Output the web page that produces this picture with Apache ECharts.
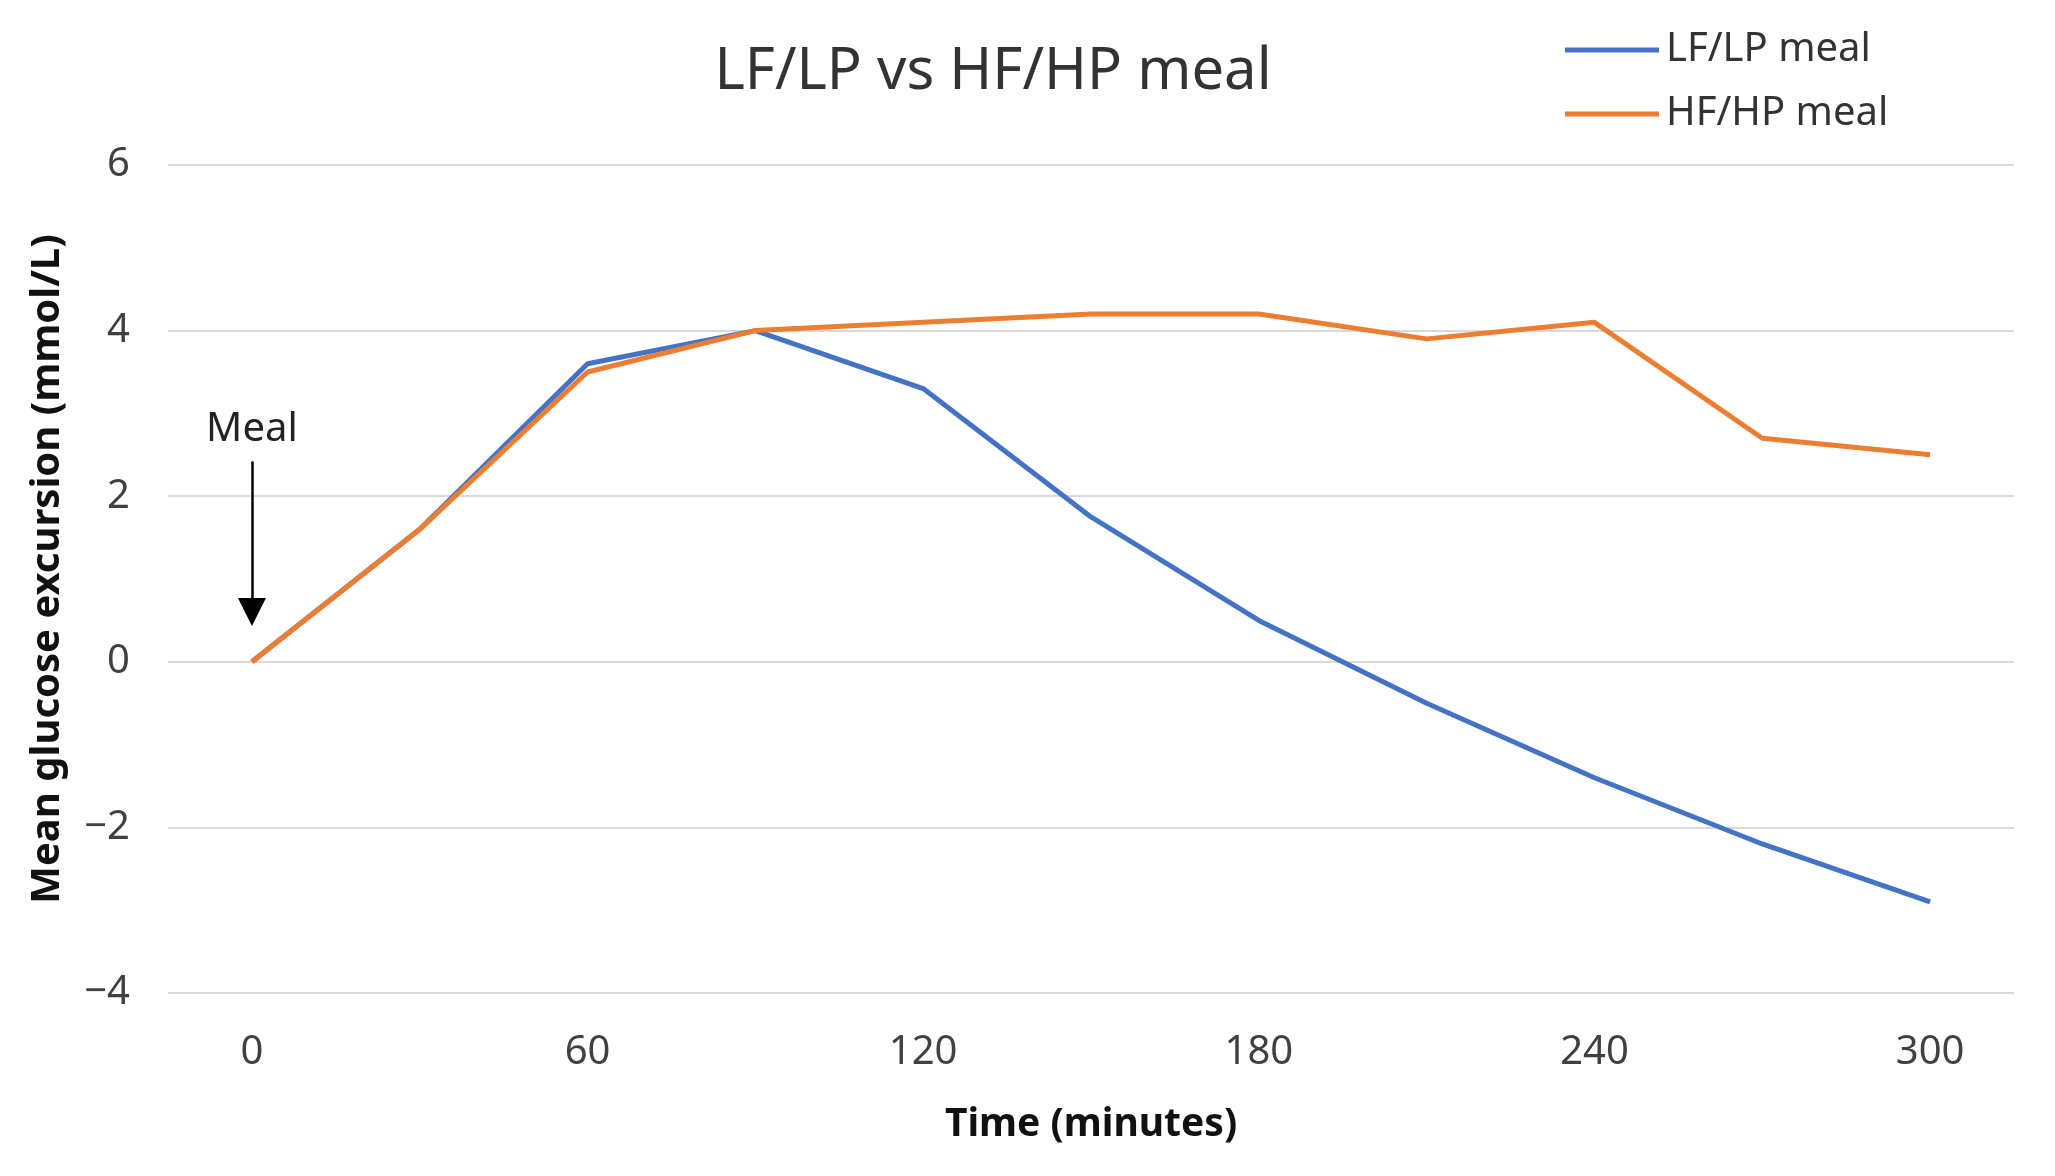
<!DOCTYPE html>
<html>
<head>
<meta charset="utf-8">
<script src="https://cdn.jsdelivr.net/npm/echarts@6/dist/echarts.min.js"></script>
<style>
html,body{margin:0;padding:0;background:#fff;}
#chart{width:2055px;height:1176px;}
</style>
</head>
<body>
<div id="chart"></div>
<script>
var timeCategories = ['0','30','60','90','120','150','180','210','240','270','300'];
var lfLpValues = [0, 1.6, 3.6, 4.0, 3.3, 1.75, 0.5, -0.5, -1.4, -2.2, -2.9];
var hfHpValues = [0, 1.6, 3.5, 4.0, 4.1, 4.2, 4.2, 3.9, 4.1, 2.7, 2.5];
var seriesNames = ['LF/LP meal', 'HF/HP meal'];
var mealArrow = { x: '0', yFrom: 2.42, yTo: 0.6, labelY: 2.8, text: 'Meal' };

var FONT = '"Noto Sans", "Open Sans", sans-serif';
var chart = echarts.init(document.getElementById('chart'));
chart.setOption({
  backgroundColor: '#ffffff',
  animation: false,
  title: {
    text: 'LF/LP vs HF/HP meal',
    left: 988,
    textAlign: 'center',
    top: 38,
    textStyle: { fontFamily: FONT, fontSize: 58, fontWeight: 'normal', color: '#333333' }
  },
  legend: {
    orient: 'vertical',
    left: 1560,
    top: 22,
    icon: 'rect',
    itemWidth: 94,
    itemHeight: 5,
    itemGap: 18,
    data: seriesNames,
    textStyle: { fontFamily: FONT, fontSize: 40, color: '#333333', lineHeight: 46, padding: [0,0,0,2] }
  },
  grid: { left: 168, right: 41, top: 165, bottom: 183, containLabel: false },
  xAxis: {
    type: 'category',
    data: timeCategories,
    boundaryGap: true,
    name: 'Time (minutes)',
    nameLocation: 'middle',
    nameGap: 112,
    nameTextStyle: { fontFamily: FONT, fontSize: 39, fontWeight: 'bold', color: '#111111' },
    axisLine: { show: false },
    axisTick: { show: false },
    axisLabel: { interval: 1, margin: 40, fontFamily: FONT, fontSize: 40, color: '#404040' },
    splitLine: { show: false }
  },
  yAxis: {
    type: 'value',
    min: -4,
    max: 6,
    interval: 2,
    name: 'Mean glucose excursion (mmol/L)',
    nameLocation: 'middle',
    nameGap: 100,
    nameTextStyle: { fontFamily: FONT, fontSize: 40, fontWeight: 'bold', color: '#111111', padding: [0, 0, 0, 20] },
    axisLine: { show: false },
    axisTick: { show: false },
    axisLabel: { margin: 38, fontFamily: FONT, fontSize: 40, color: '#404040',
      formatter: function (v) { return v < 0 ? '\u2212' + Math.abs(v) : String(v); } },
    splitLine: { show: true, lineStyle: { color: '#d9d9d9', width: 2 } }
  },
  series: [
    {
      name: seriesNames[0],
      type: 'line',
      data: lfLpValues,
      symbol: 'none',
      showSymbol: false,
      color: '#4472C4',
      lineStyle: { color: '#4472C4', width: 5 },
      markLine: {
        silent: true,
        symbol: ['none', 'triangle'],
        symbolSize: [28, 28],
        label: { show: false },
        lineStyle: { color: '#000000', width: 2.5, type: 'solid' },
        data: [[{ coord: [mealArrow.x, mealArrow.yFrom] }, { coord: [mealArrow.x, mealArrow.yTo] }]]
      },
      markPoint: {
        silent: true,
        symbol: 'rect',
        symbolSize: 1,
        itemStyle: { color: 'rgba(0,0,0,0)' },
        label: { show: true, formatter: mealArrow.text, fontFamily: FONT, fontSize: 40, color: '#222222', position: 'inside' },
        data: [{ coord: [mealArrow.x, mealArrow.labelY] }]
      }
    },
    {
      name: seriesNames[1],
      type: 'line',
      data: hfHpValues,
      symbol: 'none',
      showSymbol: false,
      color: '#ED7D31',
      lineStyle: { color: '#ED7D31', width: 5 }
    }
  ]
});
</script>
</body>
</html>
